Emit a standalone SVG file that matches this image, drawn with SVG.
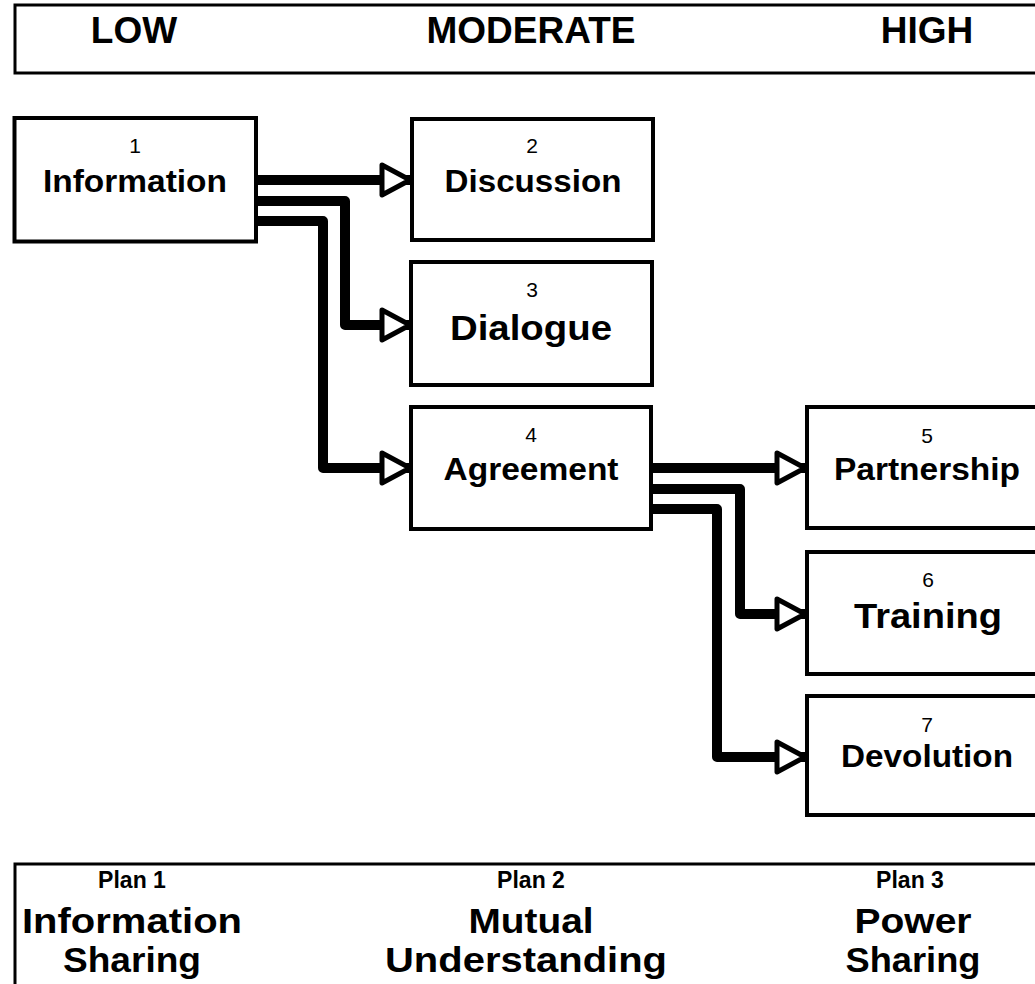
<svg xmlns="http://www.w3.org/2000/svg" width="1035" height="984" viewBox="0 0 1035 984">
<style>
  text { font-family: "Liberation Sans", Arial, sans-serif; text-anchor: middle; fill: #000; }
  .hdr { font-size: 37px; font-weight: bold; }
  .num { font-size: 21px; }
  .lbl { font-size: 31px; font-weight: bold; }
  .big { font-size: 35px; font-weight: bold; }
  .plan { font-size: 23px; font-weight: bold; }
  .foot { font-size: 35px; font-weight: bold; }
  .box { fill: #fff; stroke: #000; stroke-width: 4; }
  .frame { fill: none; stroke: #000; stroke-width: 3; }
  .conn { fill: none; stroke: #000; stroke-width: 10; stroke-linejoin: round; marker-end: url(#arr); }
</style>
<defs>
  <marker id="arr" markerUnits="userSpaceOnUse" markerWidth="40" markerHeight="40" refX="28" refY="15" orient="auto" overflow="visible">
    <path d="M0,0 L28,15 L0,30 Z" fill="#fff" stroke="#000" stroke-width="5" stroke-linejoin="round"/>
  </marker>
</defs>
<rect width="1035" height="984" fill="#fff"/>

<g id="header">
  <rect class="frame" x="15" y="5" width="1040" height="68"/>
  <text class="hdr" x="134" y="43">LOW</text>
  <text class="hdr" x="531" y="43">MODERATE</text>
  <text class="hdr" x="927" y="43">HIGH</text>
</g>

<g id="connectors">
  <path class="conn" d="M256,180 H410"/>
  <path class="conn" d="M256,201 H345 V325 H410"/>
  <path class="conn" d="M256,221 H323 V468 H410"/>
  <path class="conn" d="M651,468 H805"/>
  <path class="conn" d="M651,489 H740 V614 H805"/>
  <path class="conn" d="M651,509 H717 V757 H805"/>
</g>

<g id="node1">
  <rect class="box" x="14.5" y="118" width="241.5" height="123.5"/>
  <text class="num" x="135" y="153">1</text>
  <text class="lbl" x="135" y="192" textLength="184" lengthAdjust="spacingAndGlyphs">Information</text>
</g>
<g id="node2">
  <rect class="box" x="412" y="119" width="241" height="121"/>
  <text class="num" x="532" y="153">2</text>
  <text class="lbl" x="533" y="192" textLength="177" lengthAdjust="spacingAndGlyphs">Discussion</text>
</g>
<g id="node3">
  <rect class="box" x="411" y="262" width="241" height="123"/>
  <text class="num" x="532" y="297">3</text>
  <text class="big" x="531" y="340" textLength="162" lengthAdjust="spacingAndGlyphs">Dialogue</text>
</g>
<g id="node4">
  <rect class="box" x="411" y="407" width="240" height="122"/>
  <text class="num" x="531" y="442">4</text>
  <text class="lbl" x="531" y="480" textLength="175" lengthAdjust="spacingAndGlyphs">Agreement</text>
</g>
<g id="node5">
  <rect class="box" x="807" y="407" width="240" height="121"/>
  <text class="num" x="927" y="443">5</text>
  <text class="lbl" x="927" y="480" textLength="186" lengthAdjust="spacingAndGlyphs">Partnership</text>
</g>
<g id="node6">
  <rect class="box" x="807" y="552" width="240" height="122"/>
  <text class="num" x="928" y="587">6</text>
  <text class="big" x="928" y="628" textLength="148" lengthAdjust="spacingAndGlyphs">Training</text>
</g>
<g id="node7">
  <rect class="box" x="807" y="696" width="240" height="119"/>
  <text class="num" x="927" y="732">7</text>
  <text class="lbl" x="927" y="767" textLength="172" lengthAdjust="spacingAndGlyphs">Devolution</text>
</g>

<g id="footer">
  <rect class="frame" x="15" y="864" width="1040" height="200"/>
  <text class="plan" x="132" y="888">Plan 1</text>
  <text class="foot" x="132" y="933" textLength="220" lengthAdjust="spacingAndGlyphs">Information</text>
  <text class="foot" x="132" y="972" textLength="138" lengthAdjust="spacingAndGlyphs">Sharing</text>
  <text class="plan" x="531" y="888">Plan 2</text>
  <text class="foot" x="531" y="933" textLength="125" lengthAdjust="spacingAndGlyphs">Mutual</text>
  <text class="foot" x="526" y="972" textLength="282" lengthAdjust="spacingAndGlyphs">Understanding</text>
  <text class="plan" x="910" y="888">Plan 3</text>
  <text class="foot" x="913" y="933" textLength="117" lengthAdjust="spacingAndGlyphs">Power</text>
  <text class="foot" x="913" y="972" textLength="135" lengthAdjust="spacingAndGlyphs">Sharing</text>
</g>
</svg>
